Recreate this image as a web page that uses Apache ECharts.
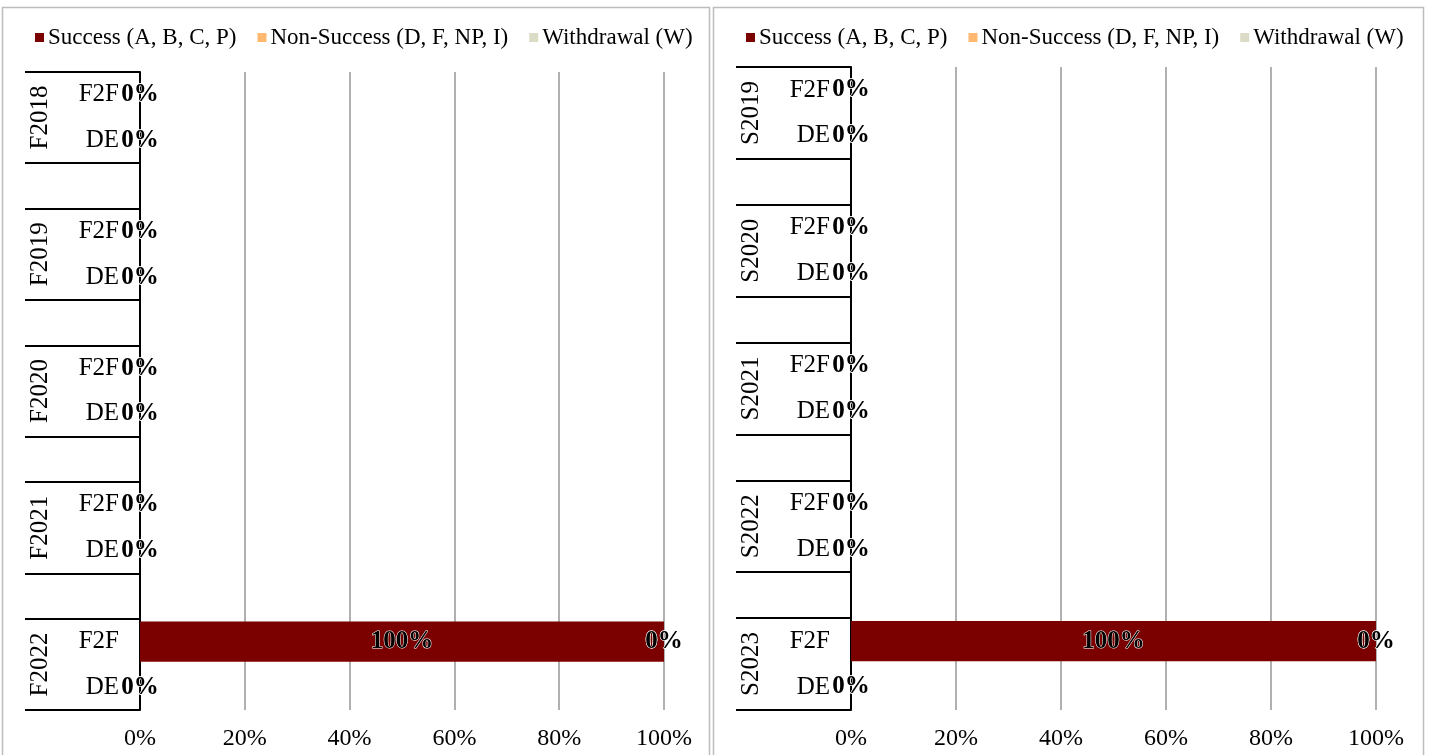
<!DOCTYPE html>
<html><head><meta charset="utf-8">
<script src="https://cdn.jsdelivr.net/npm/echarts@6/dist/echarts.min.js"></script>
<style>html,body{margin:0;padding:0;background:#fff}#c{width:1430px;height:755px}</style>
</head><body><div id="c"></div>
<script>
const seriesNames = ['Success (A, B, C, P)', 'Non-Success (D, F, NP, I)', 'Withdrawal (W)'];
const colors = ['#7b0000', '#ffb870', '#dcdcc6'];
const modes = ['F2F', 'DE', '', 'F2F', 'DE', '', 'F2F', 'DE', '', 'F2F', 'DE', '', 'F2F', 'DE'];
const xTicks = [0, 20, 40, 60, 80, 100];
// left panel (Fall terms)
const fallYears = ['F2018', 'F2019', 'F2020', 'F2021', 'F2022'];
const fallSuccess    = [0, 0, null, 0, 0, null, 0, 0, null, 0, 0, null, 100, 0];
const fallNonSuccess = [0, 0, null, 0, 0, null, 0, 0, null, 0, 0, null, 0, 0];
const fallWithdrawal = [0, 0, null, 0, 0, null, 0, 0, null, 0, 0, null, 0, 0];
// right panel (Spring terms)
const springYears = ['S2019', 'S2020', 'S2021', 'S2022', 'S2023'];
const springSuccess    = [0, 0, null, 0, 0, null, 0, 0, null, 0, 0, null, 100, 0];
const springNonSuccess = [0, 0, null, 0, 0, null, 0, 0, null, 0, 0, null, 0, 0];
const springWithdrawal = [0, 0, null, 0, 0, null, 0, 0, null, 0, 0, null, 0, 0];

const FONT = '"Liberation Serif", "Times New Roman", serif';
const chart = echarts.init(document.getElementById('c'));

const grids = [
  {left: 140, right: 766, top: 72, bottom: 45},
  {left: 851, right: 54, top: 67, bottom: 45}
];
function xAxis(gi) {
  return {
    type: 'value', gridIndex: gi, min: xTicks[0], max: xTicks[xTicks.length - 1], interval: xTicks[1] - xTicks[0],
    axisLine: {show: false}, axisTick: {show: false},
    splitLine: {lineStyle: {color: '#b0b0b0', width: 2}},
    axisLabel: {formatter: v => v + '%', color: '#000', fontFamily: FONT, fontSize: 24, margin: 17}
  };
}
function catAxis(gi) {
  return {
    type: 'category', gridIndex: gi, data: modes, inverse: true, position: 'left',
    axisLine: {show: true, lineStyle: {color: '#000', width: 2}},
    axisTick: {show: true, length: 115, lineStyle: {color: '#000', width: 2},
      interval: (i) => i % 3 !== 1},
    axisLabel: {interval: 0, color: '#000', fontFamily: FONT, fontSize: 25, margin: 21},
    splitLine: {show: false}
  };
}
function yearAxis(gi, years) {
  return {
    type: 'value', gridIndex: gi, min: 0, max: 14, interval: 1, inverse: true, position: 'left',
    axisLine: {show: false}, axisTick: {show: false}, splitLine: {show: false},
    axisLabel: {rotate: 90, margin: 87, color: '#000', fontFamily: FONT, fontSize: 25,
      formatter: v => (v % 3 === 1 ? years[(v - 1) / 3] : '')}
  };
}
function bar(name, data, gi, color, stack) {
  return {
    name, type: 'bar', xAxisIndex: gi, yAxisIndex: gi * 2, stack, data,
    barCategoryGap: '12%', itemStyle: {color},
    label: {show: true, position: 'inside', formatter: p => p.value + '%',
      color: '#000', fontWeight: 'bold', fontFamily: FONT, fontSize: 25,
      textBorderColor: '#fff', textBorderWidth: 1},
    emphasis: {disabled: true}
  };
}
function legend(left) {
  return {
    left, top: 21, icon: 'rect', itemWidth: 9, itemHeight: 9, itemGap: 21,
    data: seriesNames,
    textStyle: {fontFamily: FONT, fontSize: 23, color: '#000', padding: [0, 0, 0, -1]}
  };
}
chart.setOption({
  animation: false,
  backgroundColor: '#fff',
  color: colors,
  legend: [legend(30), legend(741)],
  grid: grids,
  xAxis: [xAxis(0), xAxis(1)],
  yAxis: [catAxis(0), yearAxis(0, fallYears), catAxis(1), yearAxis(1, springYears)],
  graphic: [
    {type: 'rect', shape: {x: 2.5, y: 7.5, width: 707, height: 760}, style: {fill: 'none', stroke: '#bdbdbd', lineWidth: 1.5}, silent: true},
    {type: 'rect', shape: {x: 713.5, y: 7.5, width: 710, height: 760}, style: {fill: 'none', stroke: '#bdbdbd', lineWidth: 1.5}, silent: true}
  ],
  series: [
    bar(seriesNames[0], fallSuccess, 0, colors[0], 'L'),
    bar(seriesNames[1], fallNonSuccess, 0, colors[1], 'L'),
    bar(seriesNames[2], fallWithdrawal, 0, colors[2], 'L'),
    bar(seriesNames[0], springSuccess, 1, colors[0], 'R'),
    bar(seriesNames[1], springNonSuccess, 1, colors[1], 'R'),
    bar(seriesNames[2], springWithdrawal, 1, colors[2], 'R')
  ]
});
</script></body></html>
